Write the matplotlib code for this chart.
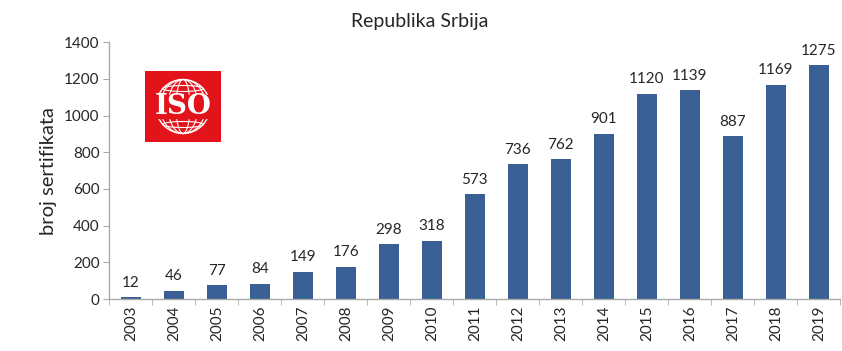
import matplotlib
matplotlib.use("Agg")
import matplotlib.pyplot as plt
from matplotlib.patches import Rectangle, Ellipse, Circle

years = ["2003", "2004", "2005", "2006", "2007", "2008", "2009", "2010", "2011",
         "2012", "2013", "2014", "2015", "2016", "2017", "2018", "2019"]
certificates = [12, 46, 77, 84, 149, 176, 298, 318, 573,
                736, 762, 901, 1120, 1139, 887, 1169, 1275]
y_ticks = [0, 200, 400, 600, 800, 1000, 1200, 1400]

plt.rcParams['font.family'] = ['Lato', 'DejaVu Sans']
text_color = "#262626"

fig = plt.figure(figsize=(8.42, 3.51), dpi=100)
ax = fig.add_axes([0.130, 0.148, 0.868, 0.732])

x = list(range(len(years)))
ax.bar(x, certificates, width=0.47, color="#3A5F95", zorder=2)
for xi, v in zip(x, certificates):
    ax.text(xi, v + 40, str(v), ha="center", va="bottom", fontsize=11, color=text_color)

ax.set_xlim(-0.5, 16.4)
ax.set_ylim(0, 1400)
ax.set_yticks(y_ticks)
ax.set_yticklabels([str(t) for t in y_ticks], fontsize=11, color=text_color)
ax.set_xticks(x)
ax.set_xticklabels(years, rotation=90, fontsize=11, color=text_color)
ax.tick_params(axis="x", length=0, pad=5)
ax.set_xticks([i + 0.5 for i in range(-1, len(years))], minor=True)
ax.tick_params(axis="x", which="minor", length=4, color="#AAAAAA", direction="out")
ax.tick_params(axis="y", length=4, color="#AAAAAA", pad=3)

for side in ("top", "right"):
    ax.spines[side].set_visible(False)
for side in ("left", "bottom"):
    ax.spines[side].set_color("#AAAAAA")
    ax.spines[side].set_linewidth(1.0)

ax.set_ylabel("broj sertifikata", fontsize=14.5, color=text_color, labelpad=5)
fig.text(0.499, 0.94, "Republika Srbija", ha="center", va="center", fontsize=14, color=text_color)

# ISO emblem: red square, white globe lines and lettering
W, H = fig.get_size_inches() * fig.dpi
logo = fig.add_axes([145 / W, 1 - 142 / H, 76 / W, 71 / H])
logo.set_xlim(0, 76)
logo.set_ylim(0, 71)
logo.axis("off")
logo.add_patch(Rectangle((0, 0), 76, 71, color="#E3131B"))
cx, cy, r = 38, 35.5, 27
logo.add_patch(Circle((cx, cy), r, fill=False, ec="white", lw=1.0))
for w in (14, 30, 46):
    logo.add_patch(Ellipse((cx, cy), w, 2 * r, fill=False, ec="white", lw=0.8))
for dy in (-18, 18):
    logo.add_patch(Ellipse((cx, cy + dy), 2 * (r * r - dy * dy) ** 0.5, 6, fill=False, ec="white", lw=0.8))
logo.add_patch(Rectangle((3, 24), 70, 23, color="#E3131B"))
logo.text(cx, cy, "ISO", ha="center", va="center", fontsize=20, fontweight="bold",
          family=["DejaVu Serif"], color="white")

fig.savefig("out.png", dpi=100)
